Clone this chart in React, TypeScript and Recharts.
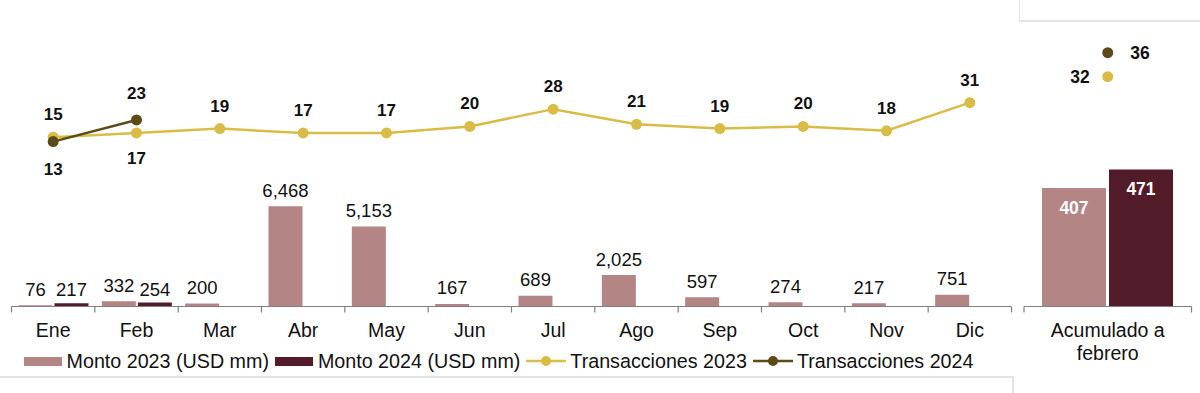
import React from 'react';
import { ComposedChart, Bar, Line, XAxis, YAxis, LabelList, Legend } from 'recharts';

// ---------- data ----------
const months = ['Ene', 'Feb', 'Mar', 'Abr', 'May', 'Jun', 'Jul', 'Ago', 'Sep', 'Oct', 'Nov', 'Dic'];
const monto2023 = [76, 332, 200, 6468, 5153, 167, 689, 2025, 597, 274, 217, 751];
const monto2024: (number | null)[] = [217, 254, null, null, null, null, null, null, null, null, null, null];
const trx2023 = [15, 17, 19, 17, 17, 20, 28, 21, 19, 20, 18, 31];
const trx2024: (number | null)[] = [13, 23, null, null, null, null, null, null, null, null, null, null];

const accumCategory = ['Acumulado a febrero'];
const accumLabelLines = ['Acumulado a', 'febrero'];
const accumMonto2023 = [407];
const accumMonto2024 = [471];
const accumTrx2023 = [32];
const accumTrx2024 = [36];

const legendLabels = ['Monto 2023 (USD mm)', 'Monto 2024 (USD mm)', 'Transacciones 2023', 'Transacciones 2024'];

// ---------- styles ----------
const C_M23 = '#b38585';
const C_M24 = '#521b29';
const C_T23 = '#d8bc46';
const C_T24 = '#5c4a17';
const AXIS = '#7f7f7f';
const TXT = '#111111';
const FONT = '"Liberation Sans", Arial, sans-serif';

const mainData = months.map((m, i) => ({
  name: m,
  m23: monto2023[i],
  m24: monto2024[i],
  t23: trx2023[i],
  t24: trx2024[i],
}));

const accumData = accumCategory.map((c, i) => ({
  name: c,
  m23: accumMonto2023[i],
  m24: accumMonto2024[i],
  t23: accumTrx2023[i],
  t24: accumTrx2024[i],
}));

const MAIN_W = 1015;
const MAIN_MARGIN = { top: 26, right: 3.5, bottom: 20, left: 11.5 };
const MAIN_BAND = (MAIN_W - MAIN_MARGIN.left - MAIN_MARGIN.right) / months.length;

const ACC_W = 185;
const ACC_MARGIN = { top: 26, right: 8.5, bottom: 46.5, left: 9 };
const ACC_BAND = (ACC_W - ACC_MARGIN.left - ACC_MARGIN.right) / accumCategory.length;

const fmt = (v: any) => (v == null ? '' : Number(v).toLocaleString('en-US'));

function MonthTick(props: any) {
  const { x, y, payload, index } = props;
  const last = index === months.length - 1;
  return (
    <g>
      <line x1={x - MAIN_BAND / 2} x2={x - MAIN_BAND / 2} y1={y} y2={y + 6} stroke={AXIS} strokeWidth={1.2} />
      {last && <line x1={x + MAIN_BAND / 2} x2={x + MAIN_BAND / 2} y1={y} y2={y + 6} stroke={AXIS} strokeWidth={1.2} />}
      <text x={x} y={y + 16.5} dy="0.71em" textAnchor="middle" fontSize={19.5} fill={TXT} fontFamily={FONT}>
        {payload.value}
      </text>
    </g>
  );
}

function AccumTick(props: any) {
  const { x, y } = props;
  return (
    <g>
      <line x1={x - ACC_BAND / 2} x2={x - ACC_BAND / 2} y1={y} y2={y + 6} stroke={AXIS} strokeWidth={1.2} />
      <line x1={x + ACC_BAND / 2} x2={x + ACC_BAND / 2} y1={y} y2={y + 6} stroke={AXIS} strokeWidth={1.2} />
      {accumLabelLines.map((t, i) => (
        <text key={t} x={x} y={y + 16.5 + i * 23.5} dy="0.71em" textAnchor="middle" fontSize={19.5} fill={TXT} fontFamily={FONT}>
          {t}
        </text>
      ))}
    </g>
  );
}

function makeTrxLabel(isBelow: (i: number) => boolean, offAbove: number, offBelow: number) {
  return (props: any) => {
    const { value, index } = props;
    const vb = props.viewBox || {};
    const x = vb.x ?? props.x;
    const y = vb.y ?? props.y;
    if (value == null || x == null || y == null) return null;
    const below = isBelow(index);
    return (
      <text
        x={x}
        y={below ? y + offBelow : y - offAbove}
        dy={below ? '0.71em' : 0}
        textAnchor="middle"
        fontSize={17}
        fontWeight="bold"
        fill={TXT}
        fontFamily={FONT}
      >
        {value}
      </text>
    );
  };
}

function makeSideLabel(side: 'left' | 'right', off: number) {
  return (props: any) => {
    const { value } = props;
    const vb = props.viewBox || {};
    const x = vb.x ?? props.x;
    const y = vb.y ?? props.y;
    if (value == null || x == null || y == null) return null;
    return (
      <text
        x={side === 'right' ? x + off : x - off}
        y={y}
        dy="0.36em"
        textAnchor={side === 'right' ? 'start' : 'end'}
        fontSize={17.5}
        fontWeight="bold"
        fill={TXT}
        fontFamily={FONT}
      >
        {value}
      </text>
    );
  };
}

function LegendContent() {
  const kinds = [
    { type: 'rect', color: C_M23 },
    { type: 'rect', color: C_M24 },
    { type: 'line', color: C_T23 },
    { type: 'line', color: C_T24 },
  ];
  return (
    <div
      style={{
        display: 'flex',
        justifyContent: 'center',
        alignItems: 'center',
        height: 24,
        fontSize: 19.7,
        color: TXT,
        fontFamily: FONT,
        whiteSpace: 'nowrap',
        marginLeft: -20,
      }}
    >
      {legendLabels.map((label, i) => (
        <div key={label} style={{ display: 'flex', alignItems: 'center', marginRight: 6 }}>
          {kinds[i].type === 'rect' ? (
            <span style={{ display: 'inline-block', width: 38, height: 9, background: kinds[i].color, marginRight: 5 }} />
          ) : (
            <svg width={40} height={12} style={{ marginRight: 4 }}>
              <line x1={0} x2={40} y1={6} y2={6} stroke={kinds[i].color} strokeWidth={2.5} />
              <circle cx={20} cy={6} r={5} fill={kinds[i].color} />
            </svg>
          )}
          <span>{label}</span>
        </div>
      ))}
    </div>
  );
}

export default function App() {
  return (
    <div style={{ position: 'absolute', left: 0, top: 0, width: 1200, height: 393, background: '#fff', fontFamily: FONT, overflow: 'hidden' }}>
      {/* decorative frame lines */}
      <div style={{ position: 'absolute', left: 1019, top: 0, width: 1, height: 21, background: '#e4e4e4' }} />
      <div style={{ position: 'absolute', left: 1019, top: 20, width: 181, height: 1.5, background: '#e4e4e4' }} />
      <div style={{ position: 'absolute', left: 0, top: 376, width: 1013, height: 1.5, background: '#e4e4e4' }} />
      <div style={{ position: 'absolute', left: 1012, top: 376, width: 1.5, height: 17, background: '#e4e4e4' }} />

      <div style={{ position: 'absolute', left: 0, top: 0 }}>
        <ComposedChart width={MAIN_W} height={393} data={mainData} margin={MAIN_MARGIN} barGap={2}>
          <XAxis
            dataKey="name"
            xAxisId={0}
            interval={0}
            height={42.5}
            tickSize={0}
            tickMargin={0}
            tickLine={false}
            axisLine={{ stroke: AXIS, strokeWidth: 1.2 }}
            tick={<MonthTick />}
          />
          <YAxis yAxisId="bar" hide domain={[0, 18085]} />
          <YAxis yAxisId="trx" hide domain={[-63.26, 66.45]} />
          <Legend verticalAlign="bottom" content={<LegendContent />} />
          <Bar dataKey="m23" yAxisId="bar" fill={C_M23} barSize={34} isAnimationActive={false}>
            <LabelList dataKey="m23" position="top" offset={9.5} formatter={fmt} fontSize={18.5} fill={TXT} fontFamily={FONT} />
          </Bar>
          <Bar dataKey="m24" yAxisId="bar" fill={C_M24} barSize={34} isAnimationActive={false}>
            <LabelList dataKey="m24" position="top" offset={7} formatter={fmt} fontSize={18.5} fill={TXT} fontFamily={FONT} />
          </Bar>
          <Line
            dataKey="t23"
            yAxisId="trx"
            stroke={C_T23}
            strokeWidth={2.5}
            dot={{ r: 5.5, fill: C_T23, stroke: C_T23, strokeWidth: 0 }}
            activeDot={false}
            isAnimationActive={false}
          >
            <LabelList dataKey="t23" content={makeTrxLabel((i) => i === 1, 17, 19)} />
          </Line>
          <Line
            dataKey="t24"
            yAxisId="trx"
            stroke={C_T24}
            strokeWidth={2.5}
            dot={{ r: 5.5, fill: C_T24, stroke: C_T24, strokeWidth: 0 }}
            activeDot={false}
            isAnimationActive={false}
            connectNulls={false}
          >
            <LabelList dataKey="t24" content={makeTrxLabel((i) => i === 0, 21, 21)} />
          </Line>
        </ComposedChart>
      </div>

      <div style={{ position: 'absolute', left: 1015, top: 0 }}>
        <ComposedChart width={ACC_W} height={393} data={accumData} margin={ACC_MARGIN} barGap={3}>
          <XAxis
            dataKey="name"
            interval={0}
            height={40}
            tickSize={0}
            tickMargin={0}
            tickLine={false}
            axisLine={{ stroke: AXIS, strokeWidth: 1.2 }}
            tick={<AccumTick />}
          />
          <YAxis
            yAxisId="bar"
            width={0}
            domain={[0, 964]}
            tick={false}
            tickLine={false}
            axisLine={{ stroke: '#a8a8a8', strokeDasharray: '2 2', strokeWidth: 1 }}
          />
          <YAxis yAxisId="trx" hide domain={[-6.3, 40.45]} />
          <Bar dataKey="m23" yAxisId="bar" fill={C_M23} barSize={64} isAnimationActive={false}>
            <LabelList dataKey="m23" position="insideTop" offset={13.5} fontSize={17.5} fontWeight="bold" fill="#ffffff" fontFamily={FONT} />
          </Bar>
          <Bar dataKey="m24" yAxisId="bar" fill={C_M24} barSize={64} isAnimationActive={false}>
            <LabelList dataKey="m24" position="insideTop" offset={13.5} fontSize={17.5} fontWeight="bold" fill="#ffffff" fontFamily={FONT} />
          </Bar>
          <Line
            dataKey="t23"
            yAxisId="trx"
            stroke={C_T23}
            strokeWidth={2.5}
            dot={{ r: 5.5, fill: C_T23, stroke: C_T23, strokeWidth: 0 }}
            activeDot={false}
            isAnimationActive={false}
          >
            <LabelList dataKey="t23" content={makeSideLabel('left', 18)} />
          </Line>
          <Line
            dataKey="t24"
            yAxisId="trx"
            stroke={C_T24}
            strokeWidth={2.5}
            dot={{ r: 5.5, fill: C_T24, stroke: C_T24, strokeWidth: 0 }}
            activeDot={false}
            isAnimationActive={false}
          >
            <LabelList dataKey="t24" content={makeSideLabel('right', 22.5)} />
          </Line>
        </ComposedChart>
      </div>
    </div>
  );
}
